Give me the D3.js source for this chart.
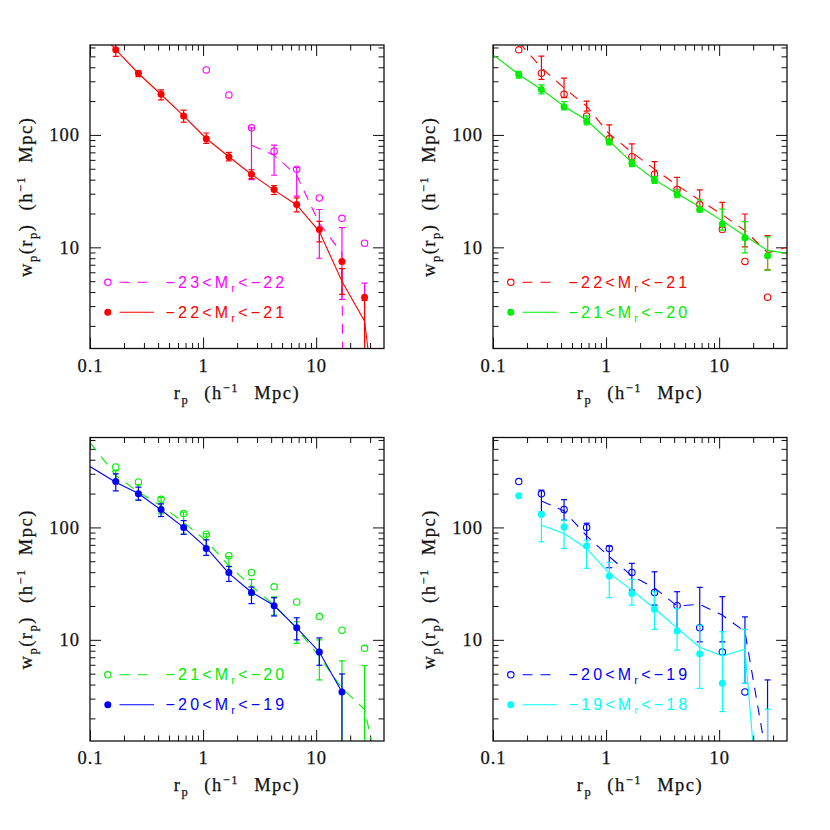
<!DOCTYPE html>
<html><head><meta charset="utf-8">
<script src="https://cdn.jsdelivr.net/npm/d3@7"></script>
<style>body{margin:0;background:#fff} svg{display:block} text{white-space:pre}</style>
</head><body>
<script>
// ---------- DATA ----------
const rpBins = [0.169,0.268,0.425,0.673,1.067,1.691,2.68,4.247,6.732,10.67,16.91,26.8];
const xTickValues = [0.1, 1, 10];
const xTickLabels = ["0.1", "1", "10"];
const yTickValues = [10, 100];
const yTickLabels = ["10", "100"];

// -23<Mr<-22 (open, panel 1)
const m23Open   = [null,null,null,null,379,227,115.7,71.7,49.5,27.5,18.1,10.9];
const m23DashRp = [2.68,4.247,6.732,10.67,16.91,26.8];
const m23Dash   = [81,66,43.8,16.3,8.85,1e-30];
const m23Lo     = [null,null,null,null,null,null,40,43.8,28.5,8.0,3.44,0.01];
const m23Hi     = [null,null,null,null,null,null,115.7,81,51.3,21.7,15.0,4.8];

// -22<Mr<-21 (filled, panel 1; open, panel 2)
const m22Pts    = [571,354,230,147.5,92.7,64.1,44.7,32.7,24.0,14.4,7.5,3.6];
const m22LineRp = [0.1,0.169,0.268,0.425,0.673,1.067,1.691,2.68,4.247,6.732,10.67,16.91,26.8,29.5];
const m22Line   = [990,575,352,229,148,93,64,44.5,32.3,23.8,13.8,5.0,2.2,1.0];
const m22Lo     = [500,330,205,130,84,58.8,40.9,29.5,20.7,11.2,3.81,0.01];
const m22Hi     = [650,372,252,166,104,70,49,35.5,27.5,17,6.46,3.37];
const m22DashRp = [0.169,0.268,0.425,0.673,1.067,1.691,2.68,4.247,6.732,10.67,16.91,26.8,42.5];
const m22Dash   = [670,396,262,180,102,70,49.6,35.6,26.3,19.5,14.1,8.94,10.2];
const m22DLo    = [null,312,215,163,84.3,59,42.6,30.2,21.4,15.2,10.1,6.3];
const m22DHi    = [null,503,320,200,123,83.2,57.8,42,32.4,25.1,19.8,12.7];

// -21<Mr<-20 (filled, panel 2; open, panel 3)
const m21Pts    = [345,254,178,133,87,56,39.7,29.6,21.7,16.1,12.2,8.4];
const m21LineRp = [0.1,0.169,0.268,0.425,0.673,1.067,1.691,2.68,4.247,6.732,10.67,16.91,26.8,40];
const m21Line   = [516,345,254,180,135,88,57,40,30,23,17.2,12.6,9.4,8.8];
const m21Lo     = [320,232,167,123,81.5,52.2,37.1,27.6,20.7,14.2,8.93,6.27];
const m21Hi     = [367,279,198,148,93.4,59.9,42.6,32.4,26.4,21.9,16.9,12.4];
const m21DashRp = [0.1,0.169,0.268,0.425,0.673,1.067,1.691,2.68,4.247,6.732,10.67,16.91,26.8,35];
const m21Dash   = [570,290,206,156,111,76,45.6,30,20.4,12.6,7.1,3.7,2.4,0.7];
const m21DLo    = [260,174,132,87,64,38,25,16.6,9.3,4.4,0.01,0.01];
const m21DHi    = [320,240,185,137,88,55,34.5,24.1,14.5,10,6.5,5.9];

// -20<Mr<-19 (filled, panel 3; open, panel 4)
const m20Pts    = [256,199,144.5,100,65,39.8,26.4,20.1,12.8,7.8,3.44,null];
const m20LineRp = [0.1,0.169,0.268,0.425,0.673,1.067,1.691,2.68,4.247,6.732,10.67,16.91];
const m20Line   = [348,252,200,143,100,66,39,26.5,20.2,12.8,7.8,3.44];
const m20Lo     = [211,175,125,87,56.4,33.1,21.0,16.3,10.0,5.94,0.01,null];
const m20Hi     = [300,228,162,115,77.6,45,29.5,23.7,15.7,10.4,4.97,null];
const m20DashRp = [0.268,0.425,0.673,1.067,1.691,2.68,4.247,6.732,10.67,16.91,26.8];
const m20Dash   = [172,140,84,55,37,29,20,20.7,16.6,11.8,0.8];
const m20DLo    = [null,133,116,67.3,43.8,27.7,20.4,11.8,9.6,9.6,4.1,0.01];
const m20DHi    = [null,215,177,109,68.2,47.9,40.3,26.8,29.3,24.2,16.0,4.4];

// -19<Mr<-18 (filled, panel 4)
const m19Pts    = [191,130.6,101,68.2,36.9,25.9,18.7,12.0,7.53,4.1,null,null];
const m19LineRp = [0.268,0.425,0.673,1.067,1.691,2.68,4.247,6.732,10.67,16.91,26.8];
const m19Line   = [104.7,88.5,65,39,27.7,19,12.7,8.6,7.18,8.24,0.035];
const m19Lo     = [null,74.5,65,43.3,23.7,20.4,12.4,8.1,3.7,2.3,4.1,0.01];
const m19Hi     = [null,138,116,77,48.8,34.5,26.8,19,13.5,11.8,12.4,2.41];

const colors = {m23:"#ff00ff", m22:"#ff0000", m21:"#00ee00", m20:"#0000ff", m19:"#00ffff"};
const legendLabels = {m23:["−23","−22"], m22:["−22","−21"], m21:["−21","−20"], m20:["−20","−19"], m19:["−19","−18"]};

// ---------- PANELS ----------
const panels = [
  {pos:[90,45],
   open:{key:"m23", pts:m23Open, lineRp:m23DashRp, line:m23Dash, lo:m23Lo, hi:m23Hi},
   filled:{key:"m22", pts:m22Pts, lineRp:m22LineRp, line:m22Line, lo:m22Lo, hi:m22Hi}},
  {pos:[493,45],
   open:{key:"m22", pts:m22Pts, lineRp:m22DashRp, line:m22Dash, lo:m22DLo, hi:m22DHi},
   filled:{key:"m21", pts:m21Pts, lineRp:m21LineRp, line:m21Line, lo:m21Lo, hi:m21Hi}},
  {pos:[90,437.5],
   open:{key:"m21", pts:m21Pts, lineRp:m21DashRp, line:m21Dash, lo:m21DLo, hi:m21DHi},
   filled:{key:"m20", pts:m20Pts, lineRp:m20LineRp, line:m20Line, lo:m20Lo, hi:m20Hi}},
  {pos:[493,437.5],
   open:{key:"m20", pts:m20Pts, lineRp:m20DashRp, line:m20Dash, lo:m20DLo, hi:m20DHi},
   filled:{key:"m19", pts:m19Pts, lineRp:m19LineRp, line:m19Line, lo:m19Lo, hi:m19Hi}}
];

const W = 830, H = 830, pw = 294, ph = 303.5;
const svg = d3.select("body").append("svg").attr("width", W).attr("height", H);
const x = d3.scaleLog().domain([0.1, Math.pow(10, 1.6)]).range([0, pw]);
const y = d3.scaleLog().domain([Math.pow(10, 0.1), Math.pow(10, 2.8)]).range([ph, 0]);

const minX = [], minY = [];
[0.1, 1, 10].forEach(d => { for (let k = 2; k <= 9; k++) if (d * k < 39.8) minX.push(d * k); });
[1, 10, 100].forEach(d => { for (let k = 2; k <= 9; k++) if (d * k > 1.26 && d * k < 630) minY.push(d * k); });

const serif = "Liberation Serif";
const sans = "Liberation Sans";
const dash = "10,8";

panels.forEach((p, pi) => {
  const g = svg.append("g").attr("transform", `translate(${p.pos[0]},${p.pos[1]})`);
  const clipId = "clip" + pi;
  g.append("clipPath").attr("id", clipId).append("rect").attr("width", pw).attr("height", ph);

  function ax(gen, vals, size, tr, labels) {
    const a = gen(gen === d3.axisBottom || gen === d3.axisTop ? x : y).tickValues(vals).tickSize(size).tickPadding(10)
      .tickFormat(labels ? ((d, i) => labels[i]) : "");
    const ag = g.append("g").attr("transform", tr).call(a);
    ag.select(".domain").remove();
    ag.attr("font-family", serif).attr("font-size", 18.5);
    ag.selectAll("line").attr("stroke", "#111").attr("stroke-width", 1);
    ag.selectAll("text").attr("fill", "#111").attr("letter-spacing", 1)
      .attr("stroke", "#111").attr("stroke-width", 0.25);
    return ag;
  }
  ax(d3.axisBottom, xTickValues, -11, `translate(0,${ph})`, xTickLabels);
  ax(d3.axisBottom, minX, -5.5, `translate(0,${ph})`, null);
  ax(d3.axisTop, xTickValues, -11, `translate(0,0)`, null);
  ax(d3.axisTop, minX, -5.5, `translate(0,0)`, null);
  ax(d3.axisLeft, yTickValues, -11, `translate(0,0)`, yTickLabels);
  ax(d3.axisLeft, minY, -5.5, `translate(0,0)`, null);
  ax(d3.axisRight, yTickValues, -11, `translate(${pw},0)`, null);
  ax(d3.axisRight, minY, -5.5, `translate(${pw},0)`, null);

  const plot = g.append("g").attr("clip-path", `url(#${clipId})`);

  function drawSeries(s, isOpen) {
    const col = colors[s.key];
    const lineGen = d3.line().defined(d => d[1] != null).x(d => x(d[0])).y(d => y(d[1]));
    plot.append("path").datum(s.lineRp.map((r, i) => [r, s.line[i]]))
      .attr("d", lineGen).attr("fill", "none").attr("stroke", col).attr("stroke-width", 1.1)
      .attr("stroke-dasharray", isOpen ? dash : null);
    const eb = rpBins.map((r, i) => ({r, lo: s.lo[i], hi: s.hi[i]})).filter(d => d.lo != null && d.hi != null);
    const eg = plot.append("g").attr("stroke", col).attr("stroke-width", 1.2);
    eg.selectAll(".v").data(eb).join("line")
      .attr("x1", d => x(d.r)).attr("x2", d => x(d.r)).attr("y1", d => y(d.lo)).attr("y2", d => y(d.hi));
    eg.selectAll(".cl").data(eb).join("line")
      .attr("x1", d => x(d.r) - 3).attr("x2", d => x(d.r) + 3).attr("y1", d => y(d.lo)).attr("y2", d => y(d.lo));
    eg.selectAll(".ch").data(eb).join("line")
      .attr("x1", d => x(d.r) - 3).attr("x2", d => x(d.r) + 3).attr("y1", d => y(d.hi)).attr("y2", d => y(d.hi));
    const pts = rpBins.map((r, i) => [r, s.pts[i]]).filter(d => d[1] != null);
    plot.append("g").selectAll("circle").data(pts).join("circle")
      .attr("cx", d => x(d[0])).attr("cy", d => y(d[1]))
      .attr("r", isOpen ? 3.2 : 3.5)
      .attr("fill", isOpen ? "none" : col)
      .attr("stroke", isOpen ? col : "none").attr("stroke-width", 1.1);
  }
  drawSeries(p.open, true);
  drawSeries(p.filled, false);

  g.append("rect").attr("width", pw).attr("height", ph).attr("fill", "none")
    .attr("stroke", "#111").attr("stroke-width", 1.3);

  // legend
  [[p.open, true, 237.3], [p.filled, false, 267.3]].forEach(([s, isOpen, ly]) => {
    const col = colors[s.key];
    g.append("circle").attr("cx", 17.8).attr("cy", ly).attr("r", isOpen ? 3.2 : 3.5)
      .attr("fill", isOpen ? "none" : col).attr("stroke", isOpen ? col : "none").attr("stroke-width", 1.1);
    g.append("line").attr("x1", 29.5).attr("x2", isOpen ? 60.5 : 64).attr("y1", ly).attr("y2", ly)
      .attr("stroke", col).attr("stroke-width", 1.1).attr("stroke-dasharray", isOpen ? dash : null);
    const lab = legendLabels[s.key];
    const t = g.append("text").attr("x", 75.5).attr("y", ly + 5.6).attr("fill", col)
      .attr("font-family", sans).attr("font-size", 16).attr("letter-spacing", 3.2);
    t.append("tspan").text(lab[0] + "<M");
    t.append("tspan").attr("font-size", 11).attr("dy", 4).text("r");
    t.append("tspan").attr("dy", -4).text("<" + lab[1]);
  });

  // x title
  const xt = g.append("text").attr("x", pw / 2).attr("y", ph + 50).attr("text-anchor", "middle")
    .attr("font-family", serif).attr("font-size", 18.5).attr("fill", "#111")
    .attr("stroke", "#111").attr("stroke-width", 0.25)
    .attr("letter-spacing", 1.5).attr("word-spacing", 9);
  xt.append("tspan").text("r");
  xt.append("tspan").attr("font-size", 12.5).attr("dy", 5).text("p");
  xt.append("tspan").attr("dy", -5).text(" (h");
  xt.append("tspan").attr("font-size", 12.5).attr("dy", -7).text("−1");
  xt.append("tspan").attr("dy", 7).text(" Mpc)");

  // y title
  const yt = g.append("text").attr("transform", `translate(-58,${ph / 2}) rotate(-90)`)
    .attr("text-anchor", "middle").attr("font-family", serif).attr("font-size", 18.5).attr("fill", "#111")
    .attr("stroke", "#111").attr("stroke-width", 0.25)
    .attr("letter-spacing", 1.5).attr("word-spacing", 7);
  yt.append("tspan").text("w");
  yt.append("tspan").attr("font-size", 12.5).attr("dy", 5).text("p");
  yt.append("tspan").attr("dy", -5).text("(r");
  yt.append("tspan").attr("font-size", 12.5).attr("dy", 5).text("p");
  yt.append("tspan").attr("dy", -5).text(") (h");
  yt.append("tspan").attr("font-size", 12.5).attr("dy", -7).text("−1");
  yt.append("tspan").attr("dy", 7).text(" Mpc)");
});
</script>
</body></html>
